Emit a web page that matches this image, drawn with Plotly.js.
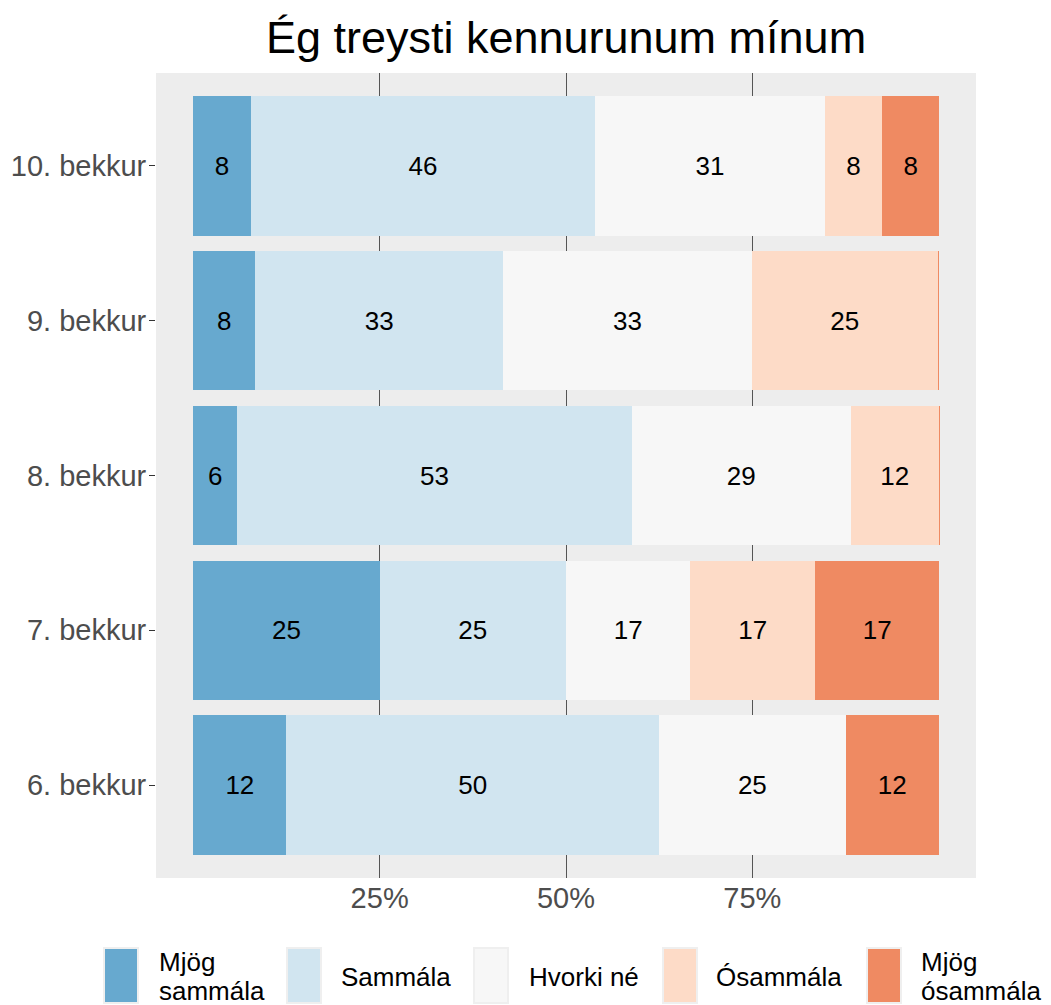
<!DOCTYPE html>
<html>
<head>
<meta charset="utf-8">
<script src="https://cdn.plot.ly/plotly-3.0.1.min.js"></script>
<style>
  html, body { margin: 0; padding: 0; background: #ffffff; }
  #chart { width: 1051px; height: 1005px; }
</style>
</head>
<body>
<div id="chart"></div>
<script>
// ---------- data ----------
const grades = ['6. bekkur', '7. bekkur', '8. bekkur', '9. bekkur', '10. bekkur'];
const responses = ['Mjög sammála', 'Sammála', 'Hvorki né', 'Ósammála', 'Mjög ósammála'];
const legendLines = [['Mjög', 'sammála'], ['Sammála'], ['Hvorki né'], ['Ósammála'], ['Mjög', 'ósammála']];
// percentages per grade (same order as grades)
const mjogSammala   = [12.5, 25,   5.9,  8.3,  7.7];
const sammala       = [50,   25,   52.9, 33.3, 46.2];
const hvorkiNe      = [25,   16.7, 29.4, 33.3, 30.8];
const osammala      = [0,    16.7, 11.8, 25,   7.7];
const mjogOsammala  = [12.5, 16.7, 0.15, 0.15, 7.7];
const xTickVals = [25, 50, 75];
const xTickText = ['25%', '50%', '75%'];
const colors = ['#67A9CF', '#D1E5F0', '#F7F7F7', '#FDDBC7', '#EF8A62'];
const title = 'Ég treysti kennurunum mínum';

const series = [mjogSammala, sammala, hvorkiNe, osammala, mjogOsammala];

// ---------- helpers ----------
function roundHalfEven(v) {
  const f = Math.floor(v);
  const d = v - f;
  if (Math.abs(d - 0.5) < 1e-9) return (f % 2 === 0) ? f : f + 1;
  return Math.round(v);
}
const FONT = 'Liberation Sans, Arial, Helvetica, sans-serif';
const W = 1051, H = 1005;
const M = { l: 156, r: 75, t: 73, b: 127 };
const PW = W - M.l - M.r, PH = H - M.t - M.b;
const px = x => (x - M.l) / PW;
const py = y => (H - M.b - y) / PH;

// ---------- traces ----------
const traces = series.map((vals, i) => ({
  type: 'bar',
  orientation: 'h',
  name: responses[i],
  y: grades,
  x: vals,
  marker: { color: colors[i], line: { width: 0 } },
  text: vals.map(v => v >= 1 ? String(roundHalfEven(v)) : ''),
  textposition: 'inside',
  insidetextanchor: 'middle',
  textangle: 0,
  constraintext: 'none',
  textfont: { family: FONT, size: 26, color: '#000000' },
  hoverinfo: 'skip',
  showlegend: false
}));

// ---------- custom legend ----------
const keyX = [105, 288, 475, 664, 868];
const textX = [158, 340, 528, 715, 920];
const shapes = [];
const annotations = [];
responses.forEach((r, i) => {
  shapes.push({
    type: 'rect', xref: 'paper', yref: 'paper',
    x0: px(keyX[i] - 1), x1: px(keyX[i] + 33), y0: py(1003), y1: py(948),
    fillcolor: colors[i], line: { color: '#EFEFEF', width: 2 }, layer: 'above'
  });
  const lines = legendLines[i];
  const centers = lines.length === 1 ? [976.5] : [962, 991];
  lines.forEach((t, j) => {
    annotations.push({
      xref: 'paper', yref: 'paper', x: px(textX[i]), y: py(centers[j]),
      xanchor: 'left', yanchor: 'middle', showarrow: false, borderpad: 0,
      text: t, font: { family: FONT, size: 26, color: '#000000' }
    });
  });
});

const layout = {
  width: W, height: H,
  margin: M,
  paper_bgcolor: '#FFFFFF',
  plot_bgcolor: '#EDEDED',
  barmode: 'stack',
  bargap: 0.1,
  showlegend: false,
  font: { family: FONT },
  title: {
    text: title,
    font: { family: FONT, size: 45, color: '#000000' },
    x: px(566), xref: 'paper', xanchor: 'center',
    y: 1 - 37 / H, yref: 'container', yanchor: 'middle'
  },
  xaxis: {
    range: [-5, 105],
    tickvals: xTickVals,
    ticktext: xTickText,
    showgrid: true,
    gridcolor: '#555555',
    gridwidth: 1,
    zeroline: false,
    showline: false,
    ticks: '',
    tickfont: { family: FONT, size: 29, color: '#4D4D4D' },
    fixedrange: true
  },
  yaxis: {
    type: 'category',
    categoryorder: 'array',
    categoryarray: grades,
    range: [-0.6, 4.6],
    showgrid: false,
    zeroline: false,
    showline: false,
    ticks: 'outside',
    ticklen: 6,
    tickwidth: 1,
    tickcolor: '#333333',
    ticklabelstandoff: -3,
    tickfont: { family: FONT, size: 29, color: '#4D4D4D' },
    fixedrange: true
  },
  shapes: shapes,
  annotations: annotations
};

Plotly.newPlot('chart', traces, layout, { displayModeBar: false, staticPlot: true });
</script>
</body>
</html>
